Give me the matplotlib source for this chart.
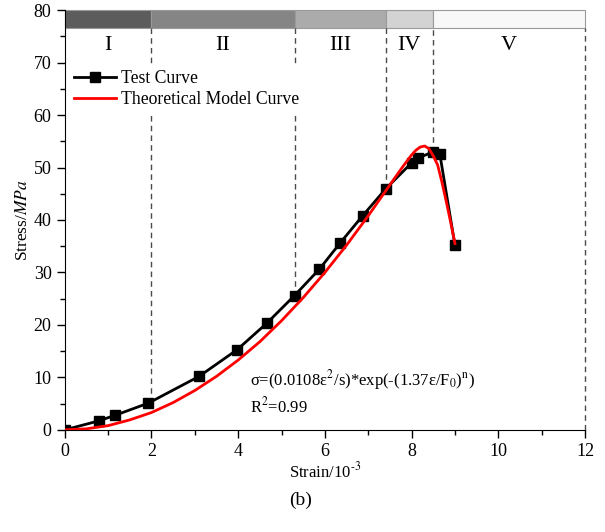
import numpy as np
import matplotlib.pyplot as plt
from matplotlib.patches import Rectangle
from matplotlib.ticker import MultipleLocator

plt.rcParams['font.family'] = ['Liberation Serif', 'DejaVu Serif']
plt.rcParams['mathtext.fontset'] = 'stix'

# test curve
test_strain = [0, 0.78, 1.17, 1.93, 3.1, 3.98, 4.67, 5.3, 5.87, 6.36, 6.87, 7.4, 8.0, 8.15, 8.5, 8.65, 9.0]
test_stress = [0, 1.7, 2.8, 5.1, 10.2, 15.3, 20.4, 25.6, 30.6, 35.7, 40.8, 45.9, 50.9, 51.8, 53.0, 52.6, 35.2]

# theoretical model curve
model_strain = [0, 0.5, 1, 1.5, 2, 2.5, 3, 3.5, 4, 4.5, 5, 5.5, 6, 6.5, 7, 7.5, 7.8,
                8.0, 8.1, 8.2, 8.3, 8.4, 8.5, 8.6, 8.7, 8.8, 8.9, 9.0]
model_stress = [0, 0.2, 0.8, 1.9, 3.3, 5.2, 7.5, 10.2, 13.3, 16.8, 20.8, 25.2, 30.0, 35.2, 40.8, 46.7, 50.2,
                52.4, 53.3, 53.9, 54.1, 53.6, 52.2, 50.5, 47.2, 43.5, 39.6, 35.5]

# stage bands
stage_bounds = [0, 2, 5.3, 7.4, 8.5, 12]
stage_names = ['I', 'II', 'III', 'IV', 'V']
stage_colors = ['#5c5c5c', '#858585', '#ababab', '#d3d3d3', '#f8f8f8']
divider_x = [2, 5.3, 7.4, 8.5, 12]
divider_bottom = [5.1, 25.6, 45.9, 53.0, 0]

fig = plt.figure(figsize=(6.05, 5.32), dpi=100)
ax = fig.add_axes([0.107, 0.192, 0.86, 0.789])

band_lo, band_hi = 76.6, 80
for i in range(len(stage_names)):
    x0, x1 = stage_bounds[i], stage_bounds[i + 1]
    ax.add_patch(Rectangle((x0, band_lo), x1 - x0, band_hi - band_lo, clip_on=False,
                           facecolor=stage_colors[i], edgecolor='#9a9a9a', lw=0.8, zorder=1))
    ax.text((x0 + x1) / 2, 73.2, stage_names[i], ha='center', va='center', fontsize=16)

for x, yb in zip(divider_x, divider_bottom):
    ax.plot([x, x], [yb, band_lo], ls=(0, (4, 3)), color='#4a4a4a', lw=1, zorder=1, clip_on=False)

ax.plot(test_strain, test_stress, color='black', lw=2, marker='s', markersize=7,
        label='Test Curve', zorder=3)
ax.plot(model_strain, model_stress, color='red', lw=2, label='Theoretical Model Curve', zorder=4)

leg = ax.legend(loc='upper left', bbox_to_anchor=(0.0, 0.878), fontsize=12.7, frameon=True,
                framealpha=1, edgecolor='none', handlelength=2.4, borderpad=0.2,
                labelspacing=0.22, handletextpad=0.3, borderaxespad=0.3)
leg.set_zorder(5)

ax.text(4.27, 9.5, r'σ=(0.0108ε$^2$/s)*exp(-(1.37ε/F$_0$)$^{\rm n}$)', fontsize=12, va='center')
ax.text(4.27, 4.5, r'R$^2$=0.99', fontsize=12, va='center')

ax.set_xlim(0, 12)
ax.set_ylim(0, 80)
ax.xaxis.set_major_locator(MultipleLocator(2))
ax.xaxis.set_minor_locator(MultipleLocator(1))
ax.yaxis.set_major_locator(MultipleLocator(10))
ax.yaxis.set_minor_locator(MultipleLocator(5))
ax.tick_params(which='both', direction='out', labelsize=13, width=1)
ax.tick_params(which='major', length=6)
ax.tick_params(which='minor', length=3.5)
ax.spines['top'].set_visible(False)
ax.spines['right'].set_visible(False)

ax.set_xlabel(r'Strain/10$^{\text{-}3}$', fontsize=12)
ax.xaxis.set_label_coords(0.5, -0.076)
ax.set_ylabel(r'Stress/$\mathit{MPa}$', fontsize=12.5)
ax.yaxis.set_label_coords(-0.064, 0.5)
fig.text(0.497, 0.06, '(b)', ha='center', va='center', fontsize=14)

fig.savefig('out.png', dpi=100)
